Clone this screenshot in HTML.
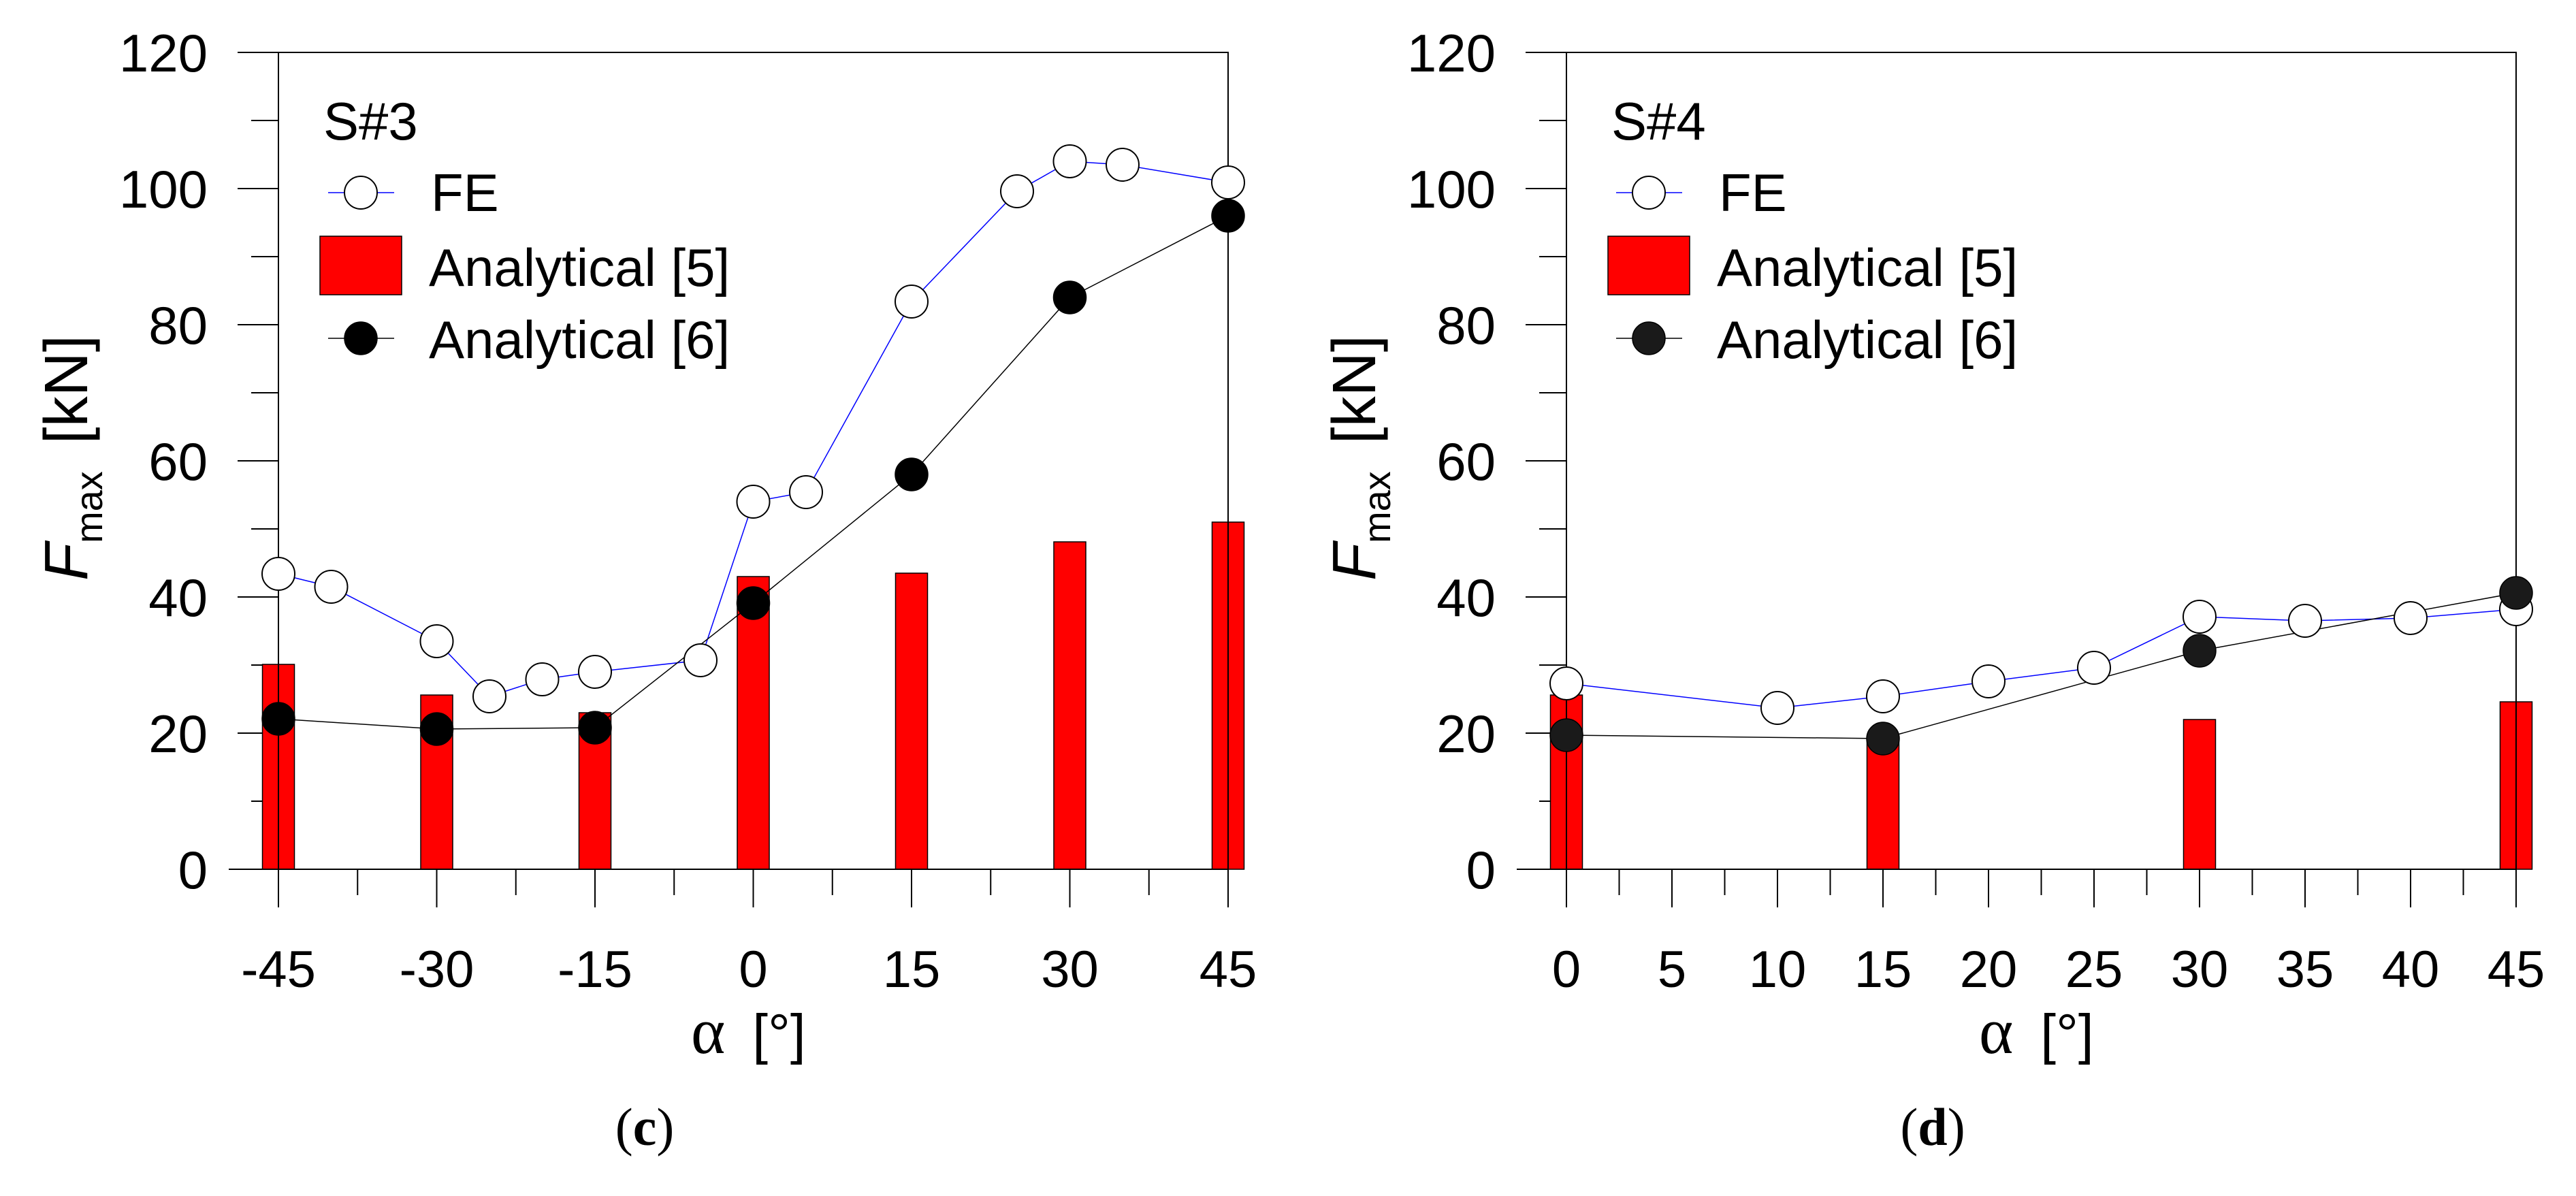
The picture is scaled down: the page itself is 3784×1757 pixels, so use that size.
<!DOCTYPE html>
<html><head><meta charset="utf-8">
<style>
html,body{margin:0;padding:0;background:#fff;}
svg{display:block;}
text{fill:#000;}
</style></head>
<body>
<svg id="fig" width="3784" height="1757" viewBox="0 0 3784 1757" xmlns="http://www.w3.org/2000/svg" font-family="'Liberation Sans', Arial, sans-serif"></svg>
<script>
// ---- Chart (c): S#3 ----
const cAngles = [-45,-40,-30,-25,-20,-15,-5,0,5,15,25,30,35,45];
const cFE = [43.4,41.5,33.5,25.4,27.9,29.0,30.7,54.0,55.4,83.4,99.6,104.0,103.5,100.9];
const cA5Angles = [-45,-30,-15,0,15,30,45];
const cA5 = [30.1,25.6,23.0,43.0,43.5,48.1,51.0];
const cA6Angles = [-45,-30,-15,0,15,30,45];
const cA6 = [22.1,20.6,20.8,39.1,58.0,84.0,96.0];
const cXTicks = [-45,-30,-15,0,15,30,45];
const cXMinor = [-37.5,-22.5,-7.5,7.5,22.5,37.5];
// ---- Chart (d): S#4 ----
const dAngles = [0,10,15,20,25,30,35,40,45];
const dFE = [27.3,23.7,25.4,27.6,29.6,37.1,36.5,36.9,38.2];
const dA5Angles = [0,15,30,45];
const dA5 = [25.6,19.0,22.0,24.6];
const dA6Angles = [0,15,30,45];
const dA6 = [19.7,19.2,32.1,40.6];
const dXTicks = [0,5,10,15,20,25,30,35,40,45];
const dXMinor = [2.5,7.5,12.5,17.5,22.5,27.5,32.5,37.5,42.5];
const yTicks = [0,20,40,60,80,100,120];
const yMinor = [10,30,50,70,90,110];

const NS = "http://www.w3.org/2000/svg";
const svg = document.getElementById('fig');
const SERIF = "font-family:'Liberation Serif', 'Times New Roman', serif";
function mk(tag, attrs, parent){
  const e = document.createElementNS(NS, tag);
  for (const k in attrs) e.setAttribute(k, attrs[k]);
  (parent||svg).appendChild(e);
  return e;
}

function chart(dx, xmin, xmax, angles, fe, a5x, a5, a6x, a6, xt, xm, tag, caption, dotFill){
  const L = 409 + dx, R = 1804 + dx, T = 77, B = 1277;
  const X = v => L + (v - xmin) / (xmax - xmin) * (R - L);
  const Y = v => B - v / 120 * (B - T);
  const g = mk('g', {});
  
  

  yTicks.forEach(v => {
    const t = mk('line', {x1:L-60, x2:L, y1:Y(v), y2:Y(v), stroke:'#000','stroke-width':2}, g);
    
    
    const lb = mk('text', {x:L-104, y:Y(v)+28, 'text-anchor':'end','font-size':78}, g);
    lb.textContent = v;
    
    
  });
  yMinor.forEach(v => {
    const t = mk('line', {x1:L-40, x2:L, y1:Y(v), y2:Y(v), stroke:'#000','stroke-width':2}, g);
    
    
  });
  xt.forEach(v => {
    const t = mk('line', {x1:X(v), x2:X(v), y1:B, y2:B+56, stroke:'#000','stroke-width':2}, g);
    
    
    const lb = mk('text', {x:X(v), y:1450, 'text-anchor':'middle','font-size':76}, g);
    lb.textContent = v;
    
    
  });
  xm.forEach(v => {
    const t = mk('line', {x1:X(v), x2:X(v), y1:B, y2:B+38, stroke:'#000','stroke-width':2}, g);
    
    
  });

  a5x.forEach((a, i) => {
    const r = mk('rect', {x:X(a)-23.5, y:Y(a5[i]), width:47, height:B-Y(a5[i]), fill:'#ff0000', stroke:'#000','stroke-width':1.5}, g);
    
    
  });

  const fr = mk('path', {d:`M${L-60},${T} L${R},${T} L${R},${B} M${L},${T} L${L},${B} M${L-73},${B} L${R},${B}`, fill:'none', stroke:'#000','stroke-width':2}, g);
  
  

  const feL = mk('polyline', {points: angles.map((a,i)=>X(a)+','+Y(fe[i])).join(' '), fill:'none', stroke:'#0000ff','stroke-width':1.5}, g);
  
  
  const a6L = mk('polyline', {points: a6x.map((a,i)=>X(a)+','+Y(a6[i])).join(' '), fill:'none', stroke:'#000','stroke-width':1.5}, g);
  
  

  angles.forEach((a, i) => {
    const c = mk('circle', {cx:X(a), cy:Y(fe[i]), r:24, fill:'#fff', stroke:'#000','stroke-width':2}, g);
    
    
  });
  a6x.forEach((a, i) => {
    const c = mk('circle', {cx:X(a), cy:Y(a6[i]), r:24, fill:dotFill, stroke:'#000','stroke-width':1.5}, g);
    
    
  });

  const lg = mk('g', {}, g);
  
  
  const st = mk('text', {x:475+dx, y:205, 'font-size':78}, lg);
  st.textContent = tag;
  
  
  mk('line', {x1:482+dx, x2:579+dx, y1:283, y2:283, stroke:'#0000ff','stroke-width':1.5}, lg);
  mk('circle', {cx:530+dx, cy:283, r:24, fill:'#fff', stroke:'#000','stroke-width':2}, lg);
  const t1 = mk('text', {x:633+dx, y:310, 'font-size':78}, lg);
  t1.textContent = 'FE';
  
  
  mk('rect', {x:470+dx, y:347, width:120, height:86, fill:'#ff0000', stroke:'#000','stroke-width':1.5}, lg);
  const t2 = mk('text', {x:630+dx, y:420, 'font-size':78}, lg);
  t2.textContent = 'Analytical [5]';
  
  
  mk('line', {x1:482+dx, x2:579+dx, y1:497, y2:497, stroke:'#000','stroke-width':1.5}, lg);
  mk('circle', {cx:530+dx, cy:497, r:24, fill:dotFill, stroke:'#000','stroke-width':1.5}, lg);
  const t3 = mk('text', {x:630+dx, y:526, 'font-size':78}, lg);
  t3.textContent = 'Analytical [6]';
  
  

  const yt = mk('text', {x:0, y:0, 'font-size':90, transform:`translate(${128+dx},853) rotate(-90)`}, g);
  
  
  const s1 = mk('tspan', {'font-style':'italic'}, yt); s1.textContent = 'F';
  const s2 = mk('tspan', {'font-size':56, dy:22}, yt); s2.textContent = 'max';
  const s3 = mk('tspan', {dy:-22, dx:40}, yt); s3.textContent = '[kN]';

  const xtl = mk('text', {x:1015+dx, y:1547, 'font-size':82}, g);
  
  
  const a1 = mk('tspan', {style:SERIF, 'font-size':96}, xtl); a1.textContent = 'α';
  const a2 = mk('tspan', {dx:40}, xtl); a2.textContent = '[°]';

  const cp = mk('text', {x:947+dx, y:1682, 'font-size':78, 'text-anchor':'middle', style:SERIF}, g);
  
  
  const p1 = mk('tspan', {}, cp); p1.textContent = '(';
  const p2 = mk('tspan', {'font-weight':'bold'}, cp); p2.textContent = caption;
  const p3 = mk('tspan', {}, cp); p3.textContent = ')';
}

chart(0, -45, 45, cAngles, cFE, cA5Angles, cA5, cA6Angles, cA6, cXTicks, cXMinor, 'S#3', 'c', '#000');
chart(1892, 0, 45, dAngles, dFE, dA5Angles, dA5, dA6Angles, dA6, dXTicks, dXMinor, 'S#4', 'd', '#1a1a1a');
</script>
</body></html>
